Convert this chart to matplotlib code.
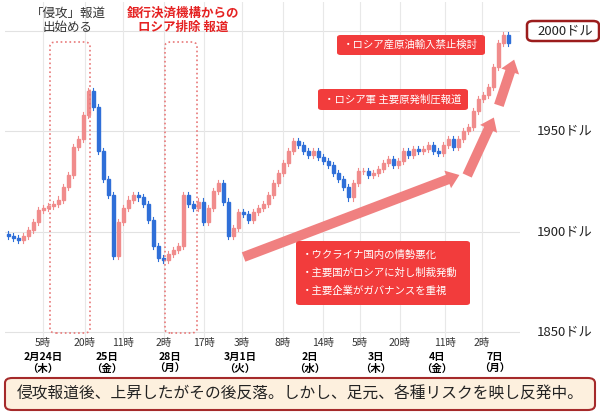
import matplotlib
matplotlib.use('Agg')
import matplotlib.pyplot as plt
from matplotlib.patches import FancyBboxPatch, Rectangle

plt.rcParams['font.family'] = ['Noto Sans CJK JP', 'DejaVu Sans']

# hourly-ish closes (every ~2 hours)
closes = [1898, 1897, 1896, 1898, 1901, 1905, 1911, 1912, 1913, 1914,
          1916, 1922, 1928, 1942, 1946, 1958, 1970, 1962, 1940, 1926,
          1918, 1888, 1905, 1912, 1916, 1918, 1917, 1914, 1906, 1893,
          1887, 1886, 1889, 1891, 1893, 1918, 1914, 1912, 1915, 1905,
          1912, 1920, 1924, 1915, 1898, 1902, 1910, 1909, 1906, 1910,
          1912, 1914, 1918, 1924, 1929, 1934, 1940, 1945, 1943, 1940,
          1938, 1940, 1937, 1935, 1933, 1929, 1926, 1922, 1917, 1924,
          1930, 1930, 1928, 1929, 1931, 1934, 1936, 1933, 1935, 1940,
          1938, 1941, 1940, 1941, 1943, 1940, 1939, 1943, 1946, 1942,
          1946, 1950, 1952, 1960, 1966, 1968, 1972, 1982, 1994, 1998, 1994]
first_open = 1899

tick_pos = [7, 15.4, 23, 31.2, 39.2, 46.8, 55, 63, 70.4, 78.4, 87.4, 94.8]
tick_labels = ['5時', '20時', '11時', '2時', '17時', '3時', '8時', '14時',
               '5時', '20時', '11時', '2時']
date_px = [43, 107, 170, 240, 310, 376, 437, 495]
date_labels = ['2月24日\n（木）', '25日\n（金）', '28日\n（月）', '3月1日\n（火）',
               '2日\n（水）', '3日\n（木）', '4日\n（金）', '7日\n（月）']
price_levels = [2000, 1950, 1900, 1850]

W, H = 600, 413
fig = plt.figure(figsize=(6, 4.13), dpi=100)
ax = fig.add_axes([5 / W, 1 - 340 / H, 515 / W, 338 / H])


def fp(x, y):
    return (x / W, 1 - y / H)


opens = [first_open] + closes[:-1]
for i, (o, c) in enumerate(zip(opens, closes)):
    col = '#f08c8c' if c >= o else '#2f6fd8'
    lo, hi = min(o, c), max(o, c)
    ax.plot([i, i], [lo - 1.5, hi + 1.5], color=col, lw=0.8, zorder=2)
    ax.add_patch(Rectangle((i - 0.3, lo), 0.6, max(hi - lo, 0.4),
                           color=col, zorder=3))

ax.set_xlim(-0.6, 102.4)
ax.set_ylim(1846, 2014.4)
for p in price_levels:
    ax.axhline(p, color='#e2e2e2', lw=0.8, zorder=0)
for t in tick_pos:
    ax.axvline(t, color='#e8e8e8', lw=0.8, zorder=0)
ax.set_xticks([])
ax.set_yticks([])
for s in ax.spines.values():
    s.set_visible(False)

for t, lab in zip(tick_pos, tick_labels):
    x = 8 + 5 * t
    fig.text(*fp(x, 343), lab, ha='center', va='center', fontsize=7.5, color='#333333')
for x, lab in zip(date_px, date_labels):
    fig.text(*fp(x, 363), lab, ha='center', va='center', fontsize=7.5,
             fontweight='bold', linespacing=1.25)

for p in price_levels:
    y = 31 + (2000 - p) * 301 / 150
    fig.text(*fp(565, y), f'{p}ドル', ha='center', va='center', fontsize=9.5, color='#222222')
fig.patches.append(FancyBboxPatch(fp(527, 41), 72 / W, 20 / H, transform=fig.transFigure,
                                  boxstyle='round,pad=0,rounding_size=0.01',
                                  fill=False, ec='#9b1c1c', lw=1.8))

# dotted highlight boxes
for x0, x1 in [(50, 90), (165, 197)]:
    fig.patches.append(FancyBboxPatch(fp(x0, 333), (x1 - x0) / W, 291 / H,
                                      transform=fig.transFigure,
                                      boxstyle='round,pad=0,rounding_size=0.01',
                                      fill=False, ec='#e87878', lw=1.2, ls=':'))
fig.text(*fp(68, 20), '「侵攻」報道\n出始める', ha='center', va='center',
         fontsize=9, color='#333333', linespacing=1.1)
fig.text(*fp(183, 20), '銀行決済機構からの\nロシア排除 報道', ha='center', va='center',
         fontsize=9, color='#e52222', fontweight='bold', linespacing=1.1)

# red label boxes
def red_box(x0, y0, x1, y1, text, fs=7.5):
    fig.patches.append(FancyBboxPatch(fp(x0, y1), (x1 - x0) / W, (y1 - y0) / H,
                                      transform=fig.transFigure,
                                      boxstyle='round,pad=0,rounding_size=0.006',
                                      fc='#f23c3c', ec='none', zorder=5))
    fig.text(*fp(x0 + 6, (y0 + y1) / 2), text, ha='left', va='center',
             fontsize=fs, color='white', linespacing=2.0, zorder=6)

red_box(337, 35, 485, 55, '・ロシア産原油輸入禁止検討')
red_box(318, 89, 468, 110, '・ロシア軍 主要原発制圧報道')
red_box(296, 241, 470, 305, '・ウクライナ国内の情勢悪化\n・主要国がロシアに対し制裁発動\n・主要企業がガバナンスを重視')

# trend arrows
for (xs, ys), (xe, ye) in [((241, 258), (462, 174)), ((466, 178), (495, 115)),
                           ((498, 108), (515, 57))]:
    ax.annotate('', xy=(xe, H - ye), xycoords='figure pixels',
                xytext=(xs, H - ys), textcoords='figure pixels',
                arrowprops=dict(arrowstyle='simple,head_width=1.5,head_length=1.0,tail_width=0.8',
                                fc='#f08080', ec='none', mutation_scale=9), zorder=4)

# bottom caption
fig.patches.append(FancyBboxPatch(fp(5, 410), 590 / W, 32 / H, transform=fig.transFigure,
                                  boxstyle='round,pad=0,rounding_size=0.012',
                                  fc='#fdf0de', ec='#a52a2a', lw=1.5))
fig.text(*fp(300, 394), '侵攻報道後、上昇したがその後反落。しかし、足元、各種リスクを映し反発中。',
         ha='center', va='center', fontsize=11.3, color='#222222')

fig.savefig('out.png', dpi=100)
